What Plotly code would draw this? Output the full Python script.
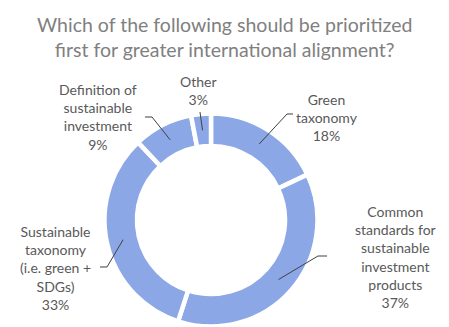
import math
import plotly.graph_objects as go

# Survey responses (share of respondents, %)
categories = [
    "Green taxonomy",
    "Common standards for sustainable investment products",
    "Sustainable taxonomy (i.e. green + SDGs)",
    "Definition of sustainable investment",
    "Other",
]
shares = [18, 37, 33, 9, 3]
label_texts = [
    "Green<br>taxonomy<br>18%",
    "Common<br>standards for<br>sustainable<br>investment<br>products<br>37%",
    "Sustainable<br>taxonomy<br>(i.e. green +<br>SDGs)<br>33%",
    "Definition of<br>sustainable<br>investment<br>9%",
    "Other<br>3%",
]

W, H = 449, 327
CX, CY, R = 211, 220, 106.5          # donut centre / outer radius (px)
HOLE = 0.695
RING_MID = 90                         # radius where leader lines start (px)

# label centres and leader-line elbows / ends (px)
label_pos = [(327, 117), (395, 257), (55, 268), (98, 117), (198, 90)]
elbows = [((287, 114), (293, 114)),
          ((318, 256), (327, 256)),
          ((107, 267), (100, 267)),
          ((152, 117), (145, 117)),
          ((200, 112), None)]


def px(x, y):
    return x / W, 1 - y / H


fig = go.Figure(go.Pie(
    labels=categories,
    values=shares,
    sort=False,
    direction="clockwise",
    rotation=0,
    hole=HOLE,
    textinfo="none",
    hoverinfo="label+percent",
    marker=dict(colors=["#8CA7E6"] * len(shares),
                line=dict(color="white", width=4.5)),
    domain=dict(x=[(CX - R) / W, (CX + R) / W],
                y=[max(0.0, 1 - (CY + R) / H), 1 - (CY - R) / H]),
    showlegend=False,
))

total = sum(shares)
cum = 0
shapes, annotations = [], []
for i, v in enumerate(shares):
    mid = (cum + v / 2) / total * 2 * math.pi
    cum += v
    sx = CX + RING_MID * math.sin(mid)
    sy = CY - RING_MID * math.cos(mid)
    pts = [(sx, sy), elbows[i][0]]
    if elbows[i][1] is not None:
        pts.append(elbows[i][1])
    path = "M " + " L ".join("%.4f,%.4f" % px(x, y) for x, y in pts)
    shapes.append(dict(type="path", xref="paper", yref="paper", path=path,
                       line=dict(color="#404040", width=1)))
    lx, ly = label_pos[i]
    ax_, ay_ = px(lx, ly)
    annotations.append(dict(x=ax_, y=ay_, xref="paper", yref="paper",
                            text=label_texts[i], showarrow=False,
                            xanchor="center", yanchor="middle", align="center",
                            font=dict(family="Lato", size=14, color="#595959")))

annotations.append(dict(
    x=224 / W, y=px(0, 37)[1], xref="paper", yref="paper",
    text="Which of the following should be prioritized<br>first for greater international alignment?",
    showarrow=False, xanchor="center", yanchor="middle", align="center",
    font=dict(family="Lato", size=19.5, color="#808080")))

fig.update_layout(
    width=W, height=H,
    margin=dict(l=0, r=0, t=0, b=0),
    paper_bgcolor="white", plot_bgcolor="white",
    shapes=shapes, annotations=annotations,
)

fig.write_html("out.html")
